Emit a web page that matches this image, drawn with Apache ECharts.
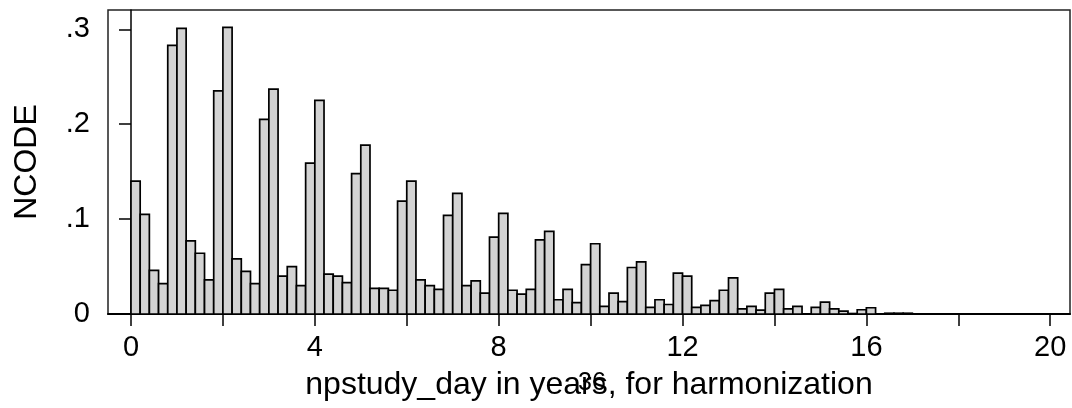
<!DOCTYPE html>
<html>
<head>
<meta charset="utf-8">
<script src="https://cdn.jsdelivr.net/npm/echarts@6/dist/echarts.min.js"></script>
<style>html,body{margin:0;padding:0;background:#fff;}#c{width:1072px;height:408px;}</style>
</head>
<body>
<div id="c"></div>
<script>
// Histogram: bin width 0.2 years, bins starting at 0
var binWidth = 0.2;
var density = [
  0.140, 0.105, 0.046, 0.032, 0.283, 0.301, 0.077, 0.064, 0.036, 0.235,
  0.302, 0.058, 0.045, 0.032, 0.205, 0.237, 0.040, 0.050, 0.030, 0.159,
  0.225, 0.042, 0.040, 0.033, 0.148, 0.178, 0.027, 0.027, 0.025, 0.119,
  0.140, 0.036, 0.030, 0.026, 0.104, 0.127, 0.030, 0.035, 0.022, 0.081,
  0.106, 0.025, 0.021, 0.026, 0.078, 0.087, 0.015, 0.026, 0.012, 0.052,
  0.074, 0.008, 0.022, 0.013, 0.049, 0.055, 0.007, 0.015, 0.010, 0.043,
  0.040, 0.007, 0.009, 0.014, 0.025, 0.038, 0.0055, 0.008, 0.004, 0.022,
  0.026, 0.0055, 0.008, 0, 0.007, 0.0125, 0.0055, 0.003, 0.0005, 0.0045,
  0.0066, 0, 0.0008, 0.0008, 0.0008
];
var xTickValues = [0, 2, 4, 6, 8, 10, 12, 14, 16, 18, 20];
var xLabelValues = [0, 4, 8, 12, 16, 20];
var yTickValues = [0, 0.1, 0.2, 0.3];
var yTickLabels = ['0', '.1', '.2', '.3'];
var xTitle = 'npstudy_day in years, for harmonization';
var yTitle = 'NCODE';
var noteText = '36';

var bins = density.map(function (v, i) {
  var s = +(i * binWidth).toFixed(4);
  return [s, +(s + binWidth).toFixed(4), v];
});

var FONT = '"Liberation Sans", Arial, sans-serif';
var chart = echarts.init(document.getElementById('c'), null, {renderer: 'canvas'});
chart.setOption({
  animation: false,
  backgroundColor: '#fff',
  grid: {left: 108, right: 2, top: 10, bottom: 94, show: true, borderColor: '#222', borderWidth: 1.5, backgroundColor: 'transparent'},
  xAxis: {
    type: 'value', min: -0.5, max: 20.43,
    name: xTitle, nameLocation: 'middle', nameGap: 55,
    nameTextStyle: {fontFamily: FONT, fontSize: 32, color: '#000'},
    axisLine: {show: true, onZero: false, lineStyle: {color: '#000', width: 2}},
    axisTick: {show: true, length: 12, customValues: xTickValues, lineStyle: {color: '#000', width: 1.5}},
    axisLabel: {customValues: xLabelValues, margin: 19, fontFamily: FONT, fontSize: 29, color: '#000'},
    splitLine: {show: false}
  },
  yAxis: {
    type: 'value', min: 0, max: 0.3203,
    name: yTitle, nameLocation: 'middle', nameGap: 65, nameRotate: 90,
    nameTextStyle: {fontFamily: FONT, fontSize: 32, color: '#000'},
    axisLine: {show: true, lineStyle: {color: '#000', width: 1.5}},
    axisTick: {show: true, length: 12, customValues: yTickValues, lineStyle: {color: '#000', width: 1.5}},
    axisLabel: {customValues: yTickValues, margin: 18, fontFamily: FONT, fontSize: 29, color: '#000',
      formatter: function (v) {
        for (var i = 0; i < yTickValues.length; i++) { if (Math.abs(yTickValues[i] - v) < 1e-9) return yTickLabels[i]; }
        return '';
      }},
    splitLine: {show: false}
  },
  graphic: [{
    type: 'text', left: 578, top: 371, z: 100,
    style: {text: noteText, fontFamily: FONT, fontSize: 25, fill: '#000'}
  }],
  series: [{
    type: 'custom',
    data: bins,
    encode: {x: [0, 1], y: 2},
    renderItem: function (params, api) {
      var x0 = api.value(0), x1 = api.value(1), v = api.value(2);
      var p0 = api.coord([x0, 0]);
      var p1 = api.coord([x1, v]);
      return {
        type: 'rect',
        shape: {x: p0[0], y: p1[1], width: p1[0] - p0[0], height: p0[1] - p1[1]},
        style: {fill: '#d3d3d3', stroke: '#000', lineWidth: 1.7}
      };
    }
  }]
});
</script>
</body>
</html>
